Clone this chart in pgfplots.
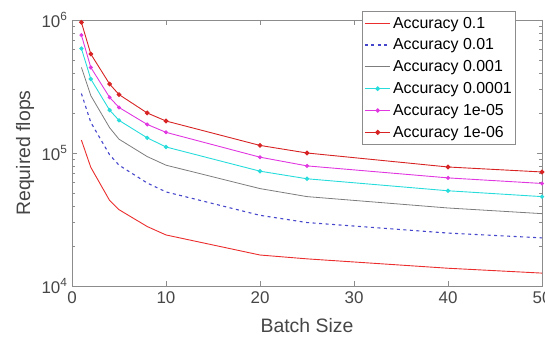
\documentclass[border=0pt]{standalone}
\usepackage{fontspec}
\setmainfont{Liberation Sans}
\usepackage{pgfplots}
\pgfplotsset{compat=1.18}
\usetikzlibrary{calc}
\definecolor{cR}{RGB}{235,45,45}
\definecolor{cB}{RGB}{70,70,205}
\definecolor{cG}{RGB}{125,125,125}
\definecolor{cC}{RGB}{40,220,220}
\definecolor{cM}{RGB}{225,55,225}
\definecolor{cR2}{RGB}{215,35,35}
\definecolor{axc}{RGB}{140,140,140}
\definecolor{txc}{RGB}{70,70,70}
\begin{document}
\begin{tikzpicture}
\begin{axis}[
  name=ax,
  scale only axis,
  width=470bp, height=266bp,
  xmin=0, xmax=50,
  ymode=log, ymin=1e4, ymax=1e6,
  xtick={0,10,20,30,40,50},
  ytick={1e4,1e5,1e6},
  yticklabels={{10\textsuperscript{4}},{10\textsuperscript{5}},{10\textsuperscript{6}}},
  /pgf/number format/assume math mode=true,
  tick align=inside,
  major tick length=5bp,
  minor tick length=3bp,
  axis line style={axc, line width=0.7bp},
  every tick/.style={axc, line width=0.6bp},
  tick label style={font=\fontsize{17}{20}\selectfont, text=txc},
  xticklabel style={yshift=-2bp},
  yticklabel style={xshift=-1bp},
  label style={font=\fontsize{19.5}{22}\selectfont, text=txc},
  xlabel={Batch Size},
  ylabel={Required flops},
  xlabel style={at={(axis description cs:0.5,-0.148)}, anchor=center},
  ylabel style={at={(axis description cs:-0.1,0.5)}, anchor=center},
  legend cell align=left,
  legend style={at={(rel axis cs:0.617,1.034)}, anchor=north west,
    draw=axc, line width=0.7bp, fill=white,
    font=\fontsize{16}{19}\selectfont,
    inner xsep=2bp, inner ysep=1bp, nodes={inner ysep=4.6bp}},
  legend image code/.code={\draw[mark repeat=2,mark phase=2,#1,line width=1.2bp] plot coordinates {(0cm,0cm) (0.45cm,0cm) (0.9cm,0cm)};},
]
\addplot[color=cR, line width=0.9bp] coordinates {
(1,1.25e5) (2,7.8e4) (4,4.4e4) (5,3.75e4) (8,2.8e4) (10,2.42e4) (20,1.71e4) (25,1.6e4) (40,1.36e4) (50,1.25e4)};
\addlegendentry{Accuracy 0.1}
\addplot[color=cB, line width=1.1bp, dash pattern=on 3bp off 3.5bp] coordinates {
(1,2.8e5) (2,1.7e5) (4,9.7e4) (5,8.1e4) (8,5.95e4) (10,5.1e4) (20,3.4e4) (25,3.0e4) (40,2.5e4) (50,2.3e4)};
\addlegendentry{Accuracy 0.01}
\addplot[color=cG, line width=0.8bp] coordinates {
(1,4.4e5) (2,2.7e5) (4,1.55e5) (5,1.27e5) (8,9.4e4) (10,8.1e4) (20,5.4e4) (25,4.7e4) (40,3.86e4) (50,3.5e4)};
\addlegendentry{Accuracy 0.001}
\addplot[color=cC, line width=0.9bp, mark=*, mark size=1.7bp] coordinates {
(1,6.1e5) (2,3.6e5) (4,2.1e5) (5,1.76e5) (8,1.3e5) (10,1.11e5) (20,7.3e4) (25,6.4e4) (40,5.2e4) (50,4.7e4)};
\addlegendentry{Accuracy 0.0001}
\addplot[color=cM, line width=0.9bp, mark=*, mark size=1.5bp] coordinates {
(1,7.7e5) (2,4.4e5) (4,2.62e5) (5,2.2e5) (8,1.64e5) (10,1.43e5) (20,9.3e4) (25,8.0e4) (40,6.5e4) (50,5.9e4)};
\addlegendentry{Accuracy 1e-05}
\addplot[color=cR2, line width=0.9bp, mark=*, mark size=1.9bp] coordinates {
(1,9.6e5) (2,5.55e5) (4,3.3e5) (5,2.75e5) (8,2.0e5) (10,1.74e5) (20,1.14e5) (25,1.0e5) (40,7.85e4) (50,7.2e4)};
\addlegendentry{Accuracy 1e-06}
\end{axis}
\pgfresetboundingbox
\path[use as bounding box] ($(ax.south west)+(-72bp,-56bp)$) rectangle ($(ax.north east)+(3bp,20bp)$);
\end{tikzpicture}
\end{document}
